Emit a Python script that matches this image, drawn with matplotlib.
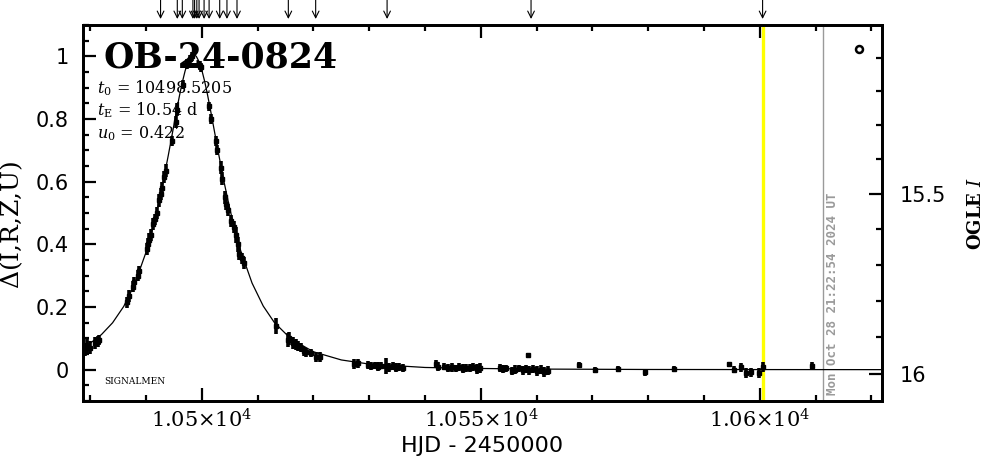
import numpy as np
import matplotlib
matplotlib.use("Agg")
import matplotlib.pyplot as plt
import matplotlib.transforms as mtransforms
from matplotlib.ticker import FixedLocator, MultipleLocator

plt.rcParams['mathtext.fontset'] = 'dejavuserif'

# ---------------- data ----------------
event_name = "OB-24-0824"
param_lines = [r"$t_0$ = 10498.5205", r"$t_{\rm E}$ = 10.54 d", r"$u_0$ = 0.422"]
date_text = "Mon Oct 28 21:22:54 2024 UT"

obs_t = [10479.0, 10479.5, 10480.0, 10480.9, 10481.3, 10481.6,
         10486.6, 10486.9, 10487.6, 10487.9, 10488.5, 10488.8,
         10490.1, 10490.35, 10490.6, 10490.85, 10491.3, 10491.6, 10491.9,
         10492.3, 10492.6, 10492.9, 10493.2, 10493.5, 10494.6, 10495.3, 10495.6,
         10496.6, 10497.4, 10497.8, 10498.2, 10499.6, 10499.9,
         10501.3, 10501.7, 10502.5, 10502.8, 10503.4, 10503.7, 10504.1, 10504.4,
         10504.7, 10505.3, 10505.7, 10506.1, 10506.4, 10506.7, 10507.2, 10507.6,
         10513.3, 10515.4, 10515.7, 10516.4, 10516.8, 10517.3, 10517.7, 10518.3,
         10518.7, 10519.6, 10520.5, 10521.2,
         10527.2, 10528.0, 10529.8, 10530.4, 10531.0, 10531.6, 10532.1, 10533.0,
         10533.6, 10534.2, 10534.8, 10535.4, 10536.0,
         10541.9, 10542.3, 10543.4, 10544.2, 10544.9, 10545.5, 10546.1, 10546.8,
         10547.4, 10548.0, 10548.6, 10549.3, 10549.9,
         10553.4, 10553.9, 10554.6, 10555.5, 10556.2, 10556.9, 10557.5, 10558.1,
         10558.7, 10559.4, 10560.1, 10560.7, 10561.4, 10562.0, 10558.5,
         10567.6, 10570.5, 10574.5, 10579.5, 10584.6, 10594.5, 10595.4, 10596.7,
         10597.6, 10598.5, 10599.8, 10600.6, 10609.4]
obs_d = [0.065, 0.075, 0.070, 0.085, 0.090, 0.095,
         0.215, 0.235, 0.265, 0.280, 0.300, 0.315,
         0.385, 0.400, 0.415, 0.430, 0.465, 0.480, 0.500,
         0.540, 0.560, 0.580, 0.615, 0.635, 0.730, 0.790, 0.830,
         0.910, 0.975, 0.990, 1.000, 0.970, 0.965,
         0.840, 0.800, 0.730, 0.700, 0.645, 0.610, 0.550, 0.530,
         0.510, 0.475, 0.455, 0.430, 0.400, 0.370, 0.355, 0.340,
         0.140, 0.095, 0.100, 0.085, 0.080, 0.075, 0.070, 0.058,
         0.055, 0.052, 0.040, 0.040,
         0.018, 0.020, 0.015, 0.012, 0.014, 0.010, 0.013, 0.012,
         0.008, 0.012, 0.006, 0.008, 0.005,
         0.018, 0.010, 0.010, 0.005, 0.008, 0.004, 0.008, 0.003,
         0.006, 0.004, 0.008, 0.002, 0.005,
         0.006, 0.002, 0.004, -0.004, 0.000, 0.004, -0.002, 0.003,
         -0.002, 0.002, -0.004, 0.000, -0.006, -0.003, 0.048,
         0.016, 0.000, 0.002, -0.008, 0.002, 0.018, 0.000, 0.007,
         -0.010, -0.008, -0.012, 0.008, 0.013]
obs_e = [0.020, 0.025, 0.020, 0.018, 0.018, 0.016,
         0.018, 0.018, 0.018, 0.016, 0.017, 0.017,
         0.020, 0.020, 0.020, 0.020, 0.018, 0.018, 0.018,
         0.020, 0.020, 0.020, 0.020, 0.020, 0.015, 0.020, 0.020,
         0.015, 0.015, 0.015, 0.015, 0.015, 0.015,
         0.015, 0.016, 0.016, 0.016, 0.020, 0.020, 0.020, 0.020,
         0.020, 0.020, 0.020, 0.025, 0.025, 0.020, 0.018, 0.018,
         0.025, 0.022, 0.020, 0.018, 0.018, 0.015, 0.015, 0.014,
         0.014, 0.013, 0.015, 0.015,
         0.015, 0.014, 0.012, 0.013, 0.012, 0.014, 0.012, 0.025,
         0.014, 0.013, 0.014, 0.012, 0.012,
         0.012, 0.014, 0.012, 0.013, 0.014, 0.012, 0.013, 0.014,
         0.012, 0.013, 0.012, 0.015, 0.017,
         0.013, 0.014, 0.012, 0.012, 0.014, 0.012, 0.014, 0.013,
         0.014, 0.013, 0.015, 0.014, 0.016, 0.014, 0.006,
         0.008, 0.010, 0.010, 0.011, 0.010, 0.008, 0.012, 0.014,
         0.016, 0.014, 0.016, 0.016, 0.010]

model_t = [10478, 10480, 10482, 10484, 10486, 10488, 10490, 10491, 10492, 10493,
           10494, 10495, 10495.5, 10496, 10496.5, 10497, 10497.5, 10498, 10498.52,
           10499, 10499.5, 10500, 10500.5, 10501, 10501.5, 10502, 10503, 10504,
           10505, 10506, 10507, 10509, 10511, 10513, 10516, 10520, 10525, 10530,
           10540, 10550, 10560, 10580, 10600, 10622]
model_d = [0.0646, 0.0846, 0.1119, 0.1496, 0.2019, 0.2746, 0.3751, 0.4383, 0.5112, 0.5938,
           0.6853, 0.7816, 0.8295, 0.8753, 0.9173, 0.9535, 0.9813, 0.9993, 1.0057,
           1.0001, 0.9831, 0.9559, 0.9204, 0.8789, 0.8333, 0.7855, 0.6890, 0.5974,
           0.5143, 0.4410, 0.3774, 0.2763, 0.2031, 0.1504, 0.0977, 0.0571, 0.0310, 0.0179,
           0.0070, 0.0038, 0.0019, 0.0006, 0.0003, 0.0001]

arrow_t = [10492.6, 10495.6, 10496.5, 10498.4, 10498.7, 10499.1, 10499.5, 10500.4,
           10501.3, 10503.2, 10504.5, 10506.3, 10515.5, 10520.4, 10533.2, 10559.0,
           10600.5]

ref_circle_t = [10617.7]
ref_circle_d = [1.025]

now_t = 10600.6      # yellow line
date_t = 10611.3     # gray line

xtick_vals = [10500, 10550, 10600]
xtick_labels = [r"$1.05{\times}10^4$", r"$1.055{\times}10^4$", r"$1.06{\times}10^4$"]
ytick_vals = [0, 0.2, 0.4, 0.6, 0.8, 1.0]
ytick_labels = ["0", "0.2", "0.4", "0.6", "0.8", "1"]

mag_major = [15.5, 16.0]
mag_major_labels = ["15.5", "16"]
mag_minor = [15.1, 15.2, 15.3, 15.4, 15.6, 15.7, 15.8, 15.9]
# OGLE I -> Delta conversion
mag_c0, mag_c1, mag_c2 = -0.0137, 1.185, -0.0706


def mag_to_delta(m):
    d = 16.0 - np.asarray(m, dtype=float)
    return mag_c0 + mag_c1 * d + mag_c2 * d * d


# ---------------- figure ----------------
fig = plt.figure(figsize=(9.86, 4.59), dpi=100)
ax = fig.add_axes([83 / 986, 58 / 459, 799 / 986, 376 / 459])

ax.set_xlim(10478.7, 10621.9)
ax.set_ylim(-0.1, 1.1)

ax.axvline(now_t, color="#ffff00", lw=2.4, zorder=1)
ax.axvline(date_t, color="#9a9a9a", lw=1.0, zorder=1)

ax.plot(model_t, model_d, color="black", lw=0.9, zorder=2)
ax.errorbar(obs_t, obs_d, yerr=obs_e, fmt="s", color="black", ms=2.5,
            elinewidth=2.6, capsize=0, zorder=3)
ax.plot(ref_circle_t, ref_circle_d, "o", ms=5, mfc="white", mec="black", mew=1.8)

# ticks
ax.xaxis.set_major_locator(FixedLocator(xtick_vals))
ax.set_xticklabels(xtick_labels)
ax.xaxis.set_minor_locator(MultipleLocator(10))
ax.yaxis.set_major_locator(FixedLocator(ytick_vals))
ax.set_yticklabels(ytick_labels)
ax.yaxis.set_minor_locator(MultipleLocator(0.05))
ax.tick_params(which="both", direction="in", top=True, right=False, width=1.6)
ax.tick_params(which="major", length=9.5)
ax.tick_params(which="minor", length=4.5)
ax.tick_params(axis="x", which="major", labelsize=15, pad=5)
ax.tick_params(axis="y", which="major", labelsize=15, pad=10)
for s in ax.spines.values():
    s.set_linewidth(2.0)

ax.set_xlabel("HJD - 2450000", fontsize=16)
ax.xaxis.set_label_coords(0.5, -0.092)
ax.set_ylabel(r"$\Delta$(I,R,Z,U)", fontsize=18, family="DejaVu Serif")
ax.yaxis.set_label_coords(-0.072, 0.47)

# right axis (OGLE I)
ax2 = ax.twinx()
ax2.set_ylim(ax.get_ylim())
ax2.yaxis.set_major_locator(FixedLocator(list(mag_to_delta(mag_major))))
ax2.set_yticklabels(mag_major_labels)
ax2.yaxis.set_minor_locator(FixedLocator(list(mag_to_delta(mag_minor))))
ax2.tick_params(which="both", direction="in", width=1.6)
ax2.tick_params(which="major", length=9.5, labelsize=15, pad=13)
ax2.tick_params(which="minor", length=4.5)
for s in ax2.spines.values():
    s.set_linewidth(2.0)
ax2.set_ylabel(r"OGLE $I$", fontsize=13, family="DejaVu Serif", weight="bold")
ax2.yaxis.set_label_coords(1.107, 0.5)

# texts
ax.text(0.026, 0.886, event_name, transform=ax.transAxes, fontsize=25,
        family="DejaVu Serif", weight="bold", va="baseline", ha="left")
for i, line in enumerate(param_lines):
    ax.text(0.018, 0.819 - 0.06 * i, line, transform=ax.transAxes, fontsize=11.5,
            family="DejaVu Serif", va="baseline", ha="left")
ax.text(0.026, 0.045, "SIGNALMEN", transform=ax.transAxes, fontsize=6.5,
        family="DejaVu Serif", va="baseline", ha="left")

blend = mtransforms.blended_transform_factory(ax.transData, ax.transAxes)
ax.text(date_t + 0.6, 0.016, date_text, transform=blend, rotation=90,
        fontsize=9, family="DejaVu Sans Mono", weight="bold", color="#9a9a9a",
        ha="left", va="bottom")

for t in arrow_t:
    ax.annotate("", xy=(t, 1.016), xytext=(t, 1.0665), xycoords=blend,
                textcoords=blend, annotation_clip=False,
                arrowprops=dict(arrowstyle="->", lw=0.8, color="black",
                                mutation_scale=12, shrinkA=0, shrinkB=0))

fig.savefig("out.png", dpi=100)
